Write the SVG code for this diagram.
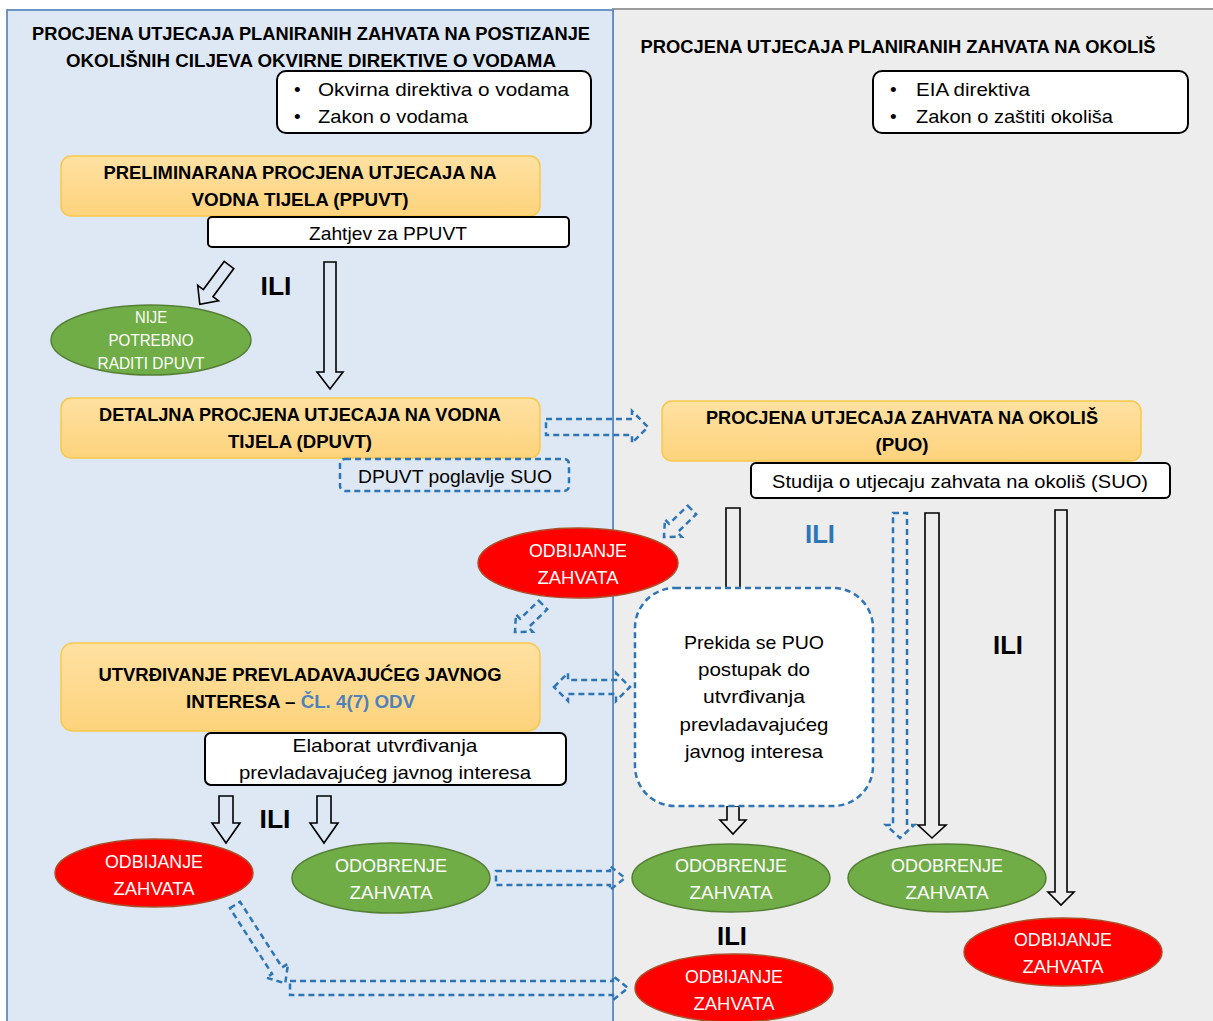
<svg xmlns="http://www.w3.org/2000/svg" width="1213" height="1021" viewBox="0 0 1213 1021">
<defs>
<linearGradient id="og" x1="0" y1="0" x2="0" y2="1"><stop offset="0" stop-color="#ffe1a2"/><stop offset="1" stop-color="#fdd37c"/></linearGradient>
<style>
.t{font-family:"Liberation Sans",Arial,sans-serif;fill:#000;}
.b{font-weight:bold;}
.w{fill:#fff;}
.orange{fill:url(#og);stroke:#f9c84a;stroke-width:1.5;}
.box{fill:#fff;stroke:#000;stroke-width:2;}
.dbox{fill:none;stroke:#2e75b6;stroke-width:2.5;stroke-dasharray:6 4;}
.green{fill:#70ad47;stroke:#567f36;stroke-width:1.5;}
.red{fill:#ff0000;stroke:#a9502a;stroke-width:1.5;}
.arr{fill:none;stroke:#000;stroke-width:1.6;}
.darr{fill:none;stroke:#2e75b6;stroke-width:2.5;stroke-dasharray:6 4;}
</style>
</defs>
<rect x="0" y="0" width="1213" height="1021" fill="#fff"/>
<g id="panel-right">
<rect x="613" y="9" width="610" height="1020" fill="#ededed" stroke="#9c9c9c" stroke-width="2"/>
</g>
<g id="panel-left">
<rect x="7" y="10" width="606" height="1020" fill="#dde8f4" stroke="#5f8cc3" stroke-width="1.8"/>
</g>
<g id="headers">
<text class="t b" x="311" y="40" font-size="19" text-anchor="middle" textLength="558" lengthAdjust="spacingAndGlyphs">PROCJENA UTJECAJA PLANIRANIH ZAHVATA NA POSTIZANJE</text>
<text class="t b" x="311" y="67" font-size="19" text-anchor="middle" textLength="490" lengthAdjust="spacingAndGlyphs">OKOLIŠNIH CILJEVA OKVIRNE DIREKTIVE O VODAMA</text>
<text class="t b" x="898" y="53" font-size="19" text-anchor="middle" textLength="515" lengthAdjust="spacingAndGlyphs">PROCJENA UTJECAJA PLANIRANIH ZAHVATA NA OKOLIŠ</text>
</g>
<g id="legend-left">
<rect class="box" x="277" y="71" width="314" height="62" rx="9"/>
<text class="t" x="294" y="96" font-size="19">•</text>
<text class="t" x="318" y="96" font-size="19" textLength="251" lengthAdjust="spacingAndGlyphs">Okvirna direktiva o vodama</text>
<text class="t" x="294" y="123" font-size="19">•</text>
<text class="t" x="318" y="123" font-size="19" textLength="150" lengthAdjust="spacingAndGlyphs">Zakon o vodama</text>
</g>
<g id="legend-right">
<rect class="box" x="873" y="71" width="315" height="62" rx="9"/>
<text class="t" x="890" y="96" font-size="19">•</text>
<text class="t" x="916" y="96" font-size="19" textLength="114" lengthAdjust="spacingAndGlyphs">EIA direktiva</text>
<text class="t" x="890" y="123" font-size="19">•</text>
<text class="t" x="916" y="123" font-size="19" textLength="197" lengthAdjust="spacingAndGlyphs">Zakon o zaštiti okoliša</text>
</g>
<g id="connectors">
<polygon class="arr" transform="translate(229,265) rotate(36.6)" points="-6,0 6,0 6,35 13,35 0,49 -13,35 -6,35"/>
<polygon class="arr" points="324,262 336,262 336,372 343,372 330,389 317,372 324,372"/>
<polygon class="darr" points="546,419 632,419 632,411 648,427 632,443 632,435 546,435"/>
<polygon class="darr" transform="translate(692,510) rotate(46)" points="-6,0 6,0 6,26 12,26 0,39 -12,26 -6,26"/>
<polygon class="darr" transform="translate(543,605) rotate(46)" points="-6,0 6,0 6,26 12,26 0,39 -12,26 -6,26"/>
<polygon class="arr" points="726,508 740,508 740,600 726,600"/>
<polygon class="darr" points="893,513 907,513 907,825 914,825 900,838 886,825 893,825"/>
<polygon class="arr" points="925,513 939,513 939,825 946,825 932,838 918,825 925,825"/>
<polygon class="arr" points="1055,510 1067,510 1067,892 1074,892 1061,905 1048,892 1055,892"/>
<polygon class="darr" points="554,687 568,673 568,680 616,680 616,673 630,687 616,701 616,694 568,694 568,701"/>
<polygon class="arr" points="727,806 739,806 739,820 746,820 733,834 720,820 727,820"/>
<polygon class="arr" points="219,796 233,796 233,823 240,823 226,843 212,823 219,823"/>
<polygon class="arr" points="317,796 331,796 331,823 338,823 324,843 310,823 317,823"/>
<polygon class="darr" points="496,871 610,871 610,866 625,878 610,890 610,885 496,885"/>
<polygon class="darr" transform="translate(235,905) rotate(-32.7)" points="-6,0 6,0 6,78 13,78 0,93 -13,78 -6,78"/>
<polygon class="darr" points="290,981 613,981 613,976 628,988 613,1000 613,995 290,995"/>
</g>
<g id="ili-labels">
<text class="t b" x="276" y="295" font-size="26" text-anchor="middle" textLength="31" lengthAdjust="spacingAndGlyphs">ILI</text>
<text class="t b" x="820" y="543" font-size="26" text-anchor="middle" style="fill:#2e75b6" textLength="30" lengthAdjust="spacingAndGlyphs">ILI</text>
<text class="t b" x="1008" y="654" font-size="26" text-anchor="middle" textLength="30" lengthAdjust="spacingAndGlyphs">ILI</text>
<text class="t b" x="275" y="828" font-size="26" text-anchor="middle" textLength="31" lengthAdjust="spacingAndGlyphs">ILI</text>
<text class="t b" x="732" y="945" font-size="26" text-anchor="middle" textLength="30" lengthAdjust="spacingAndGlyphs">ILI</text>
</g>
<g id="ppuvt">
<rect class="orange" x="61" y="156" width="479" height="60" rx="10"/>
<text class="t b" x="300" y="179" font-size="18" text-anchor="middle" textLength="393" lengthAdjust="spacingAndGlyphs">PRELIMINARANA PROCJENA UTJECAJA NA</text>
<text class="t b" x="300" y="206" font-size="18" text-anchor="middle" textLength="217" lengthAdjust="spacingAndGlyphs">VODNA TIJELA (PPUVT)</text>
</g>
<g id="zahtjev">
<rect class="box" x="208" y="217" width="361" height="30" rx="4"/>
<text class="t" x="388" y="240" font-size="19" text-anchor="middle" textLength="158" lengthAdjust="spacingAndGlyphs">Zahtjev za PPUVT</text>
</g>
<g id="nije-potrebno">
<ellipse class="green" cx="151" cy="340" rx="100" ry="35"/>
<text class="t w" x="151" y="323" font-size="16" text-anchor="middle" textLength="32" lengthAdjust="spacingAndGlyphs">NIJE</text>
<text class="t w" x="151" y="346" font-size="16" text-anchor="middle" textLength="85" lengthAdjust="spacingAndGlyphs">POTREBNO</text>
<text class="t w" x="151" y="369" font-size="16" text-anchor="middle" textLength="107" lengthAdjust="spacingAndGlyphs">RADITI DPUVT</text>
</g>
<g id="dpuvt">
<rect class="orange" x="61" y="398" width="479" height="60" rx="10"/>
<text class="t b" x="300" y="421" font-size="18" text-anchor="middle" textLength="402" lengthAdjust="spacingAndGlyphs">DETALJNA PROCJENA UTJECAJA NA VODNA</text>
<text class="t b" x="300" y="448" font-size="18" text-anchor="middle" textLength="144" lengthAdjust="spacingAndGlyphs">TIJELA (DPUVT)</text>
</g>
<g id="dpuvt-poglavlje">
<rect class="dbox" x="340" y="459" width="229" height="32" rx="5"/>
<text class="t" x="455" y="483" font-size="19" text-anchor="middle" textLength="194" lengthAdjust="spacingAndGlyphs">DPUVT poglavlje SUO</text>
</g>
<g id="puo">
<rect class="orange" x="662" y="401" width="479" height="60" rx="10"/>
<text class="t b" x="902" y="424" font-size="18" text-anchor="middle" textLength="392" lengthAdjust="spacingAndGlyphs">PROCJENA UTJECAJA ZAHVATA NA OKOLIŠ</text>
<text class="t b" x="902" y="451" font-size="18" text-anchor="middle" textLength="53" lengthAdjust="spacingAndGlyphs">(PUO)</text>
</g>
<g id="suo">
<rect class="box" x="751" y="463" width="419" height="35" rx="5"/>
<text class="t" x="960" y="488" font-size="19" text-anchor="middle" textLength="376" lengthAdjust="spacingAndGlyphs">Studija o utjecaju zahvata na okoliš (SUO)</text>
</g>
<g id="odbijanje-1">
<ellipse class="red" cx="578" cy="563" rx="100" ry="35"/>
<text class="t w" x="578" y="557" font-size="19" text-anchor="middle" textLength="98" lengthAdjust="spacingAndGlyphs">ODBIJANJE</text>
<text class="t w" x="578" y="584" font-size="19" text-anchor="middle" textLength="81" lengthAdjust="spacingAndGlyphs">ZAHVATA</text>
</g>
<g id="prekida">
<rect x="635" y="588" width="238" height="218" rx="40" fill="#fff" stroke="#2e75b6" stroke-width="2.5" stroke-dasharray="6 4"/>
<text class="t" x="754" y="649" font-size="19" text-anchor="middle" textLength="140" lengthAdjust="spacingAndGlyphs">Prekida se PUO</text>
<text class="t" x="754" y="676" font-size="19" text-anchor="middle" textLength="112" lengthAdjust="spacingAndGlyphs">postupak do</text>
<text class="t" x="754" y="703" font-size="19" text-anchor="middle" textLength="102" lengthAdjust="spacingAndGlyphs">utvrđivanja</text>
<text class="t" x="754" y="731" font-size="19" text-anchor="middle" textLength="149" lengthAdjust="spacingAndGlyphs">prevladavajućeg</text>
<text class="t" x="754" y="758" font-size="19" text-anchor="middle" textLength="138" lengthAdjust="spacingAndGlyphs">javnog interesa</text>
</g>
<g id="utvrdivanje">
<rect class="orange" x="61" y="643" width="479" height="88" rx="12"/>
<text class="t b" x="300" y="681" font-size="18" text-anchor="middle" textLength="403" lengthAdjust="spacingAndGlyphs">UTVRĐIVANJE PREVLADAVAJUĆEG JAVNOG</text>
<text class="t b" x="186" y="708" font-size="18" textLength="229" lengthAdjust="spacingAndGlyphs">INTERESA – <tspan style="fill:#4f81bd">ČL. 4(7) ODV</tspan></text>
</g>
<g id="elaborat">
<rect class="box" x="205" y="733" width="361" height="52" rx="6"/>
<text class="t" x="385" y="752" font-size="19" text-anchor="middle" textLength="185" lengthAdjust="spacingAndGlyphs">Elaborat utvrđivanja</text>
<text class="t" x="385" y="779" font-size="19" text-anchor="middle" textLength="292" lengthAdjust="spacingAndGlyphs">prevladavajućeg javnog interesa</text>
</g>
<g id="odbijanje-2">
<ellipse class="red" cx="154" cy="873" rx="99" ry="34"/>
<text class="t w" x="154" y="868" font-size="19" text-anchor="middle" textLength="98" lengthAdjust="spacingAndGlyphs">ODBIJANJE</text>
<text class="t w" x="154" y="895" font-size="19" text-anchor="middle" textLength="81" lengthAdjust="spacingAndGlyphs">ZAHVATA</text>
</g>
<g id="odobrenje-1">
<ellipse class="green" cx="391" cy="878" rx="99" ry="35"/>
<text class="t w" x="391" y="872" font-size="19" text-anchor="middle" textLength="112" lengthAdjust="spacingAndGlyphs">ODOBRENJE</text>
<text class="t w" x="391" y="899" font-size="19" text-anchor="middle" textLength="83" lengthAdjust="spacingAndGlyphs">ZAHVATA</text>
</g>
<g id="odobrenje-2">
<ellipse class="green" cx="731" cy="878" rx="99" ry="34"/>
<text class="t w" x="731" y="872" font-size="19" text-anchor="middle" textLength="112" lengthAdjust="spacingAndGlyphs">ODOBRENJE</text>
<text class="t w" x="731" y="899" font-size="19" text-anchor="middle" textLength="83" lengthAdjust="spacingAndGlyphs">ZAHVATA</text>
</g>
<g id="odobrenje-3">
<ellipse class="green" cx="947" cy="878" rx="99" ry="34"/>
<text class="t w" x="947" y="872" font-size="19" text-anchor="middle" textLength="112" lengthAdjust="spacingAndGlyphs">ODOBRENJE</text>
<text class="t w" x="947" y="899" font-size="19" text-anchor="middle" textLength="83" lengthAdjust="spacingAndGlyphs">ZAHVATA</text>
</g>
<g id="odbijanje-3">
<ellipse class="red" cx="734" cy="988" rx="99" ry="34"/>
<text class="t w" x="734" y="983" font-size="19" text-anchor="middle" textLength="98" lengthAdjust="spacingAndGlyphs">ODBIJANJE</text>
<text class="t w" x="734" y="1010" font-size="19" text-anchor="middle" textLength="81" lengthAdjust="spacingAndGlyphs">ZAHVATA</text>
</g>
<g id="odbijanje-4">
<ellipse class="red" cx="1063" cy="952" rx="99" ry="34"/>
<text class="t w" x="1063" y="946" font-size="19" text-anchor="middle" textLength="98" lengthAdjust="spacingAndGlyphs">ODBIJANJE</text>
<text class="t w" x="1063" y="973" font-size="19" text-anchor="middle" textLength="81" lengthAdjust="spacingAndGlyphs">ZAHVATA</text>
</g>
</svg>
